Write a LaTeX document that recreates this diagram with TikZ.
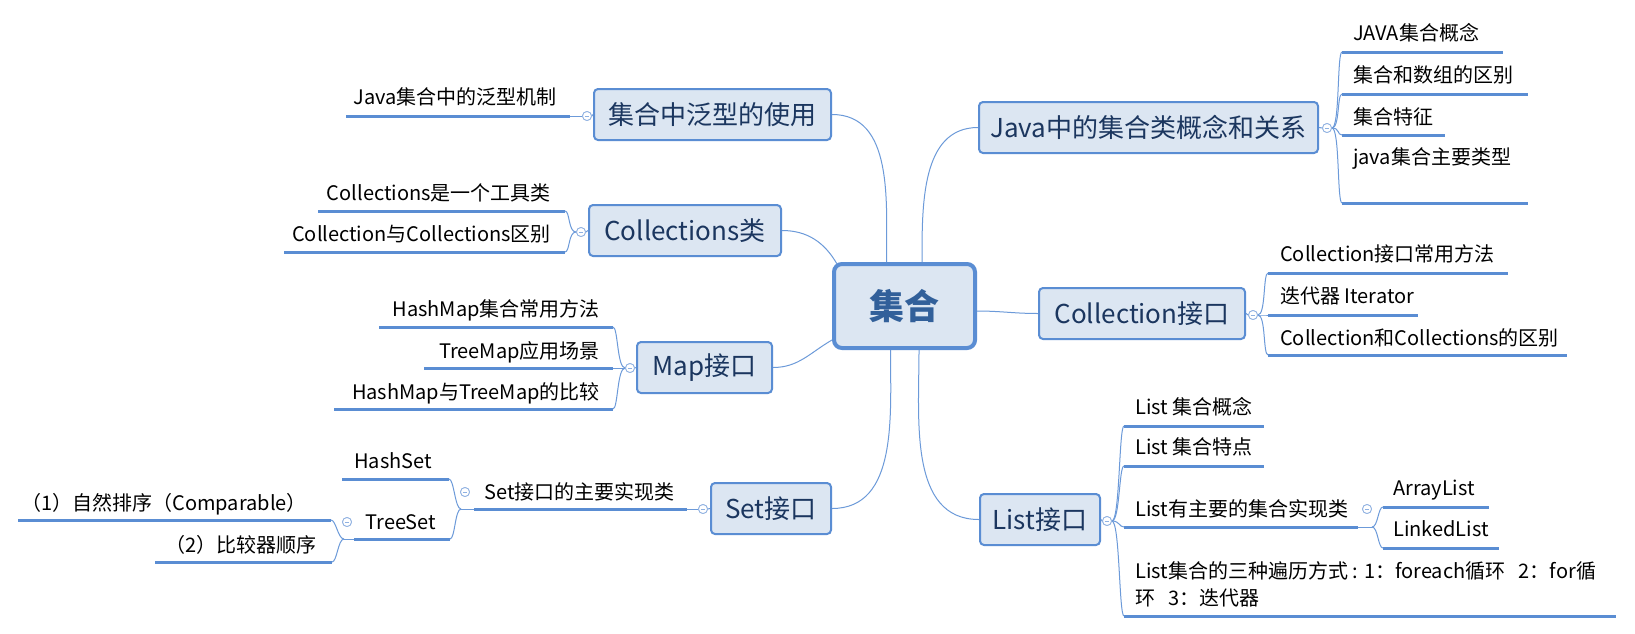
\documentclass[tikz,border=0pt]{standalone}
\usepackage{fontspec}
\setmainfont{Noto Sans CJK SC}
\usetikzlibrary{calc}
\definecolor{bfill}{HTML}{DCE6F2}
\definecolor{bline}{HTML}{5A8DD3}
\definecolor{btext}{HTML}{1B365F}
\definecolor{ctext}{HTML}{32609A}
\definecolor{uline}{HTML}{5A8DD3}
\definecolor{cline}{HTML}{6C9AD9}
\definecolor{circ}{HTML}{8FB1E1}
\begin{document}
\begin{tikzpicture}[x=1pt,y=-1pt,
  topic/.style={draw=bline, line width=2pt, fill=bfill, rounded corners=4pt, text=btext,
    font=\fontsize{26}{30}\selectfont, inner sep=0pt},
  mainbox/.style={draw=bline, line width=4pt, fill=bfill, rounded corners=8pt, text=ctext,
    font=\fontsize{35}{40}\selectfont\bfseries, inner sep=0pt},
  leaf/.style={font=\fontsize{20}{24}\selectfont, inner sep=0pt, text=black},
  uln/.style={draw=uline, line width=3pt},
  conn/.style={draw=cline, line width=1pt},
  fold/.style={circle, draw=circ, fill=white, line width=0.8pt, minimum size=9pt, inner sep=0pt,
    path picture={\draw[circ, line width=0.8pt] ([xshift=-2.2pt]path picture bounding box.center) -- ([xshift=2.2pt]path picture bounding box.center);}}
]
\useasboundingbox (0,0) rectangle (1635,633);
\fill[white] (0,0) rectangle (1635,633);

% ---------- topic boxes ----------
\node[mainbox, minimum width=141pt, minimum height=84pt] (c) at (904.5,306) {集合};
\node[topic, minimum width=339pt, minimum height=51pt] (bJava) at (1148.5,127.5) {Java中的集合类概念和关系};
\node[topic, minimum width=206pt, minimum height=51pt] (bColl) at (1142,313.5) {Collection接口};
\node[topic, minimum width=120pt, minimum height=51pt] (bList) at (1040,519.5) {List接口};
\node[topic, minimum width=237pt, minimum height=51pt] (bGen) at (712.5,114.5) {集合中泛型的使用};
\node[topic, minimum width=192pt, minimum height=51pt] (bColls) at (685,230.5) {Collections类};
\node[topic, minimum width=135pt, minimum height=51pt] (bMap) at (704.5,367.5) {Map接口};
\node[topic, minimum width=120pt, minimum height=51pt] (bSet) at (771,508.5) {Set接口};

% ---------- main connectors ----------
\begin{scope}[on background layer/.style={}]
\draw[conn] ([xshift=17.5pt]c.north) to[out=90,in=180] (bJava.west);
\draw[conn] ([yshift=-5pt]c.east) to[out=0,in=180] (bColl.west);
\draw[conn] ([xshift=14.5pt]c.south) to[out=-90,in=180] (bList.west);
\draw[conn] ([xshift=-18pt]c.north) to[out=90,in=0] (bGen.east);
\draw[conn] (bColls.east) to[out=0,in=120] ([xshift=5pt,yshift=-2pt]c.north west);
\draw[conn] (bMap.east) to[out=0,in=210] ([yshift=-34pt]c.west);
\draw[conn] (bSet.east) to[out=0,in=-90] ([xshift=-14pt]c.south);
\end{scope}

% ---------- fold circles ----------
\node[fold] (fJ) at (1327,128) {};
\node[fold] (fC) at (1253,315) {};
\node[fold] (fL) at (1107,521) {};
\node[fold] (fLL) at (1367,509) {};
\node[fold] (fG) at (587,116) {};
\node[fold] (fS) at (581,232) {};
\node[fold] (fM) at (630,368) {};
\node[fold] (fT) at (703,509) {};
\node[fold] (fT2) at (465,492) {};
\node[fold] (fTT) at (347,522) {};

% ---------- Java children ----------
\node[leaf, anchor=base west] (j1) at (1353,40.5) {JAVA集合概念};
\node[leaf, anchor=base west] (j2) at (1353,82.5) {集合和数组的区别};
\node[leaf, anchor=base west] (j3) at (1353,124.5) {集合特征};
\node[leaf, anchor=base west] (j4) at (1353,164.5) {java集合主要类型};
\coordinate (j1s) at (1342,52);  \coordinate (j1e) at (1503,52);
\coordinate (j2s) at (1342,94);  \coordinate (j2e) at (1528,94);
\coordinate (j3s) at (1342,135); \coordinate (j3e) at (1445,135);
\coordinate (j4s) at (1342,203); \coordinate (j4e) at (1528,203);
\foreach \i in {1,2,3,4} {\draw[uln] (j\i s) -- (j\i e);}
\draw[conn] (bJava.east) -- (fJ.west);
\foreach \i in {1,2,3,4} {\draw[conn] (fJ.east) .. controls +(8,0) and +(-5,0) .. (j\i s);}

% ---------- Collection children ----------
\node[leaf, anchor=base west] (k1) at (1280,261.5) {Collection接口常用方法};
\node[leaf, anchor=base west] (k2) at (1280,303.5) {迭代器 Iterator};
\node[leaf, anchor=base west] (k3) at (1280,345.5) {Collection和Collections的区别};
\coordinate (k1s) at (1268,273); \coordinate (k1e) at (1508,273);
\coordinate (k2s) at (1268,315); \coordinate (k2e) at (1418,315);
\coordinate (k3s) at (1268,355); \coordinate (k3e) at (1567,355);
\foreach \i in {1,2,3} {\draw[uln] (k\i s) -- (k\i e);}
\draw[conn] (bColl.east) -- (fC.west);
\foreach \i in {1,2,3} {\draw[conn] (fC.east) .. controls +(8,0) and +(-5,0) .. (k\i s);}

% ---------- List children ----------
\node[leaf, anchor=base west] (l1) at (1135,414.5) {List 集合概念};
\node[leaf, anchor=base west] (l2) at (1135,454.5) {List 集合特点};
\node[leaf, anchor=base west] (l3) at (1135,516.5) {List有主要的集合实现类};
\node[leaf, anchor=base west] (l4a) at (1135,578.5) {List集合的三种遍历方式 : 1：foreach循环\ \ \ 2：for循};
\node[leaf, anchor=base west] (l4b) at (1135,605.5) {环\ \ \ 3：迭代器};
\coordinate (l1s) at (1124,426); \coordinate (l1e) at (1264,426);
\coordinate (l2s) at (1124,466); \coordinate (l2e) at (1264,466);
\coordinate (l3s) at (1124,527); \coordinate (l3e) at (1358,527);
\coordinate (l4s) at (1124,616); \coordinate (l4e) at (1616,616);
\foreach \i in {1,2,3,4} {\draw[uln] (l\i s) -- (l\i e);}
\draw[conn] (bList.east) -- (fL.west);
\foreach \i in {1,2,3,4} {\draw[conn] (fL.east) .. controls +(8,0) and +(-5,0) .. (l\i s);}
% ArrayList / LinkedList
\node[leaf, anchor=base west] (a1) at (1393,495.5) {ArrayList};
\node[leaf, anchor=base west] (a2) at (1393,536.5) {LinkedList};
\coordinate (a1s) at (1383,507); \coordinate (a1e) at (1489,507);
\coordinate (a2s) at (1383,548); \coordinate (a2e) at (1499,548);
\coordinate (lj) at (1372,527);
\foreach \i in {1,2} {\draw[uln] (a\i s) -- (a\i e);}
\draw[conn] (l3e) -- (lj);
\foreach \i in {1,2} {\draw[conn] (lj) .. controls +(6,0) and +(-5,0) .. (a\i s);}

% ---------- Generic ----------
\node[leaf, anchor=base east] (g1) at (557,104.5) {Java集合中的泛型机制};
\coordinate (g1s) at (346,116); \coordinate (g1e) at (570,116);
\draw[uln] (g1s) -- (g1e);
\draw[conn] (bGen.west) -- (fG.east);
\draw[conn] (fG.west) -- (g1e);

% ---------- Collections ----------
\node[leaf, anchor=base east] (s1) at (551,200.5) {Collections是一个工具类};
\node[leaf, anchor=base east] (s2) at (551,241.5) {Collection与Collections区别};
\coordinate (s1s) at (318,211); \coordinate (s1e) at (565,211);
\coordinate (s2s) at (284,252); \coordinate (s2e) at (565,252);
\foreach \i in {1,2} {\draw[uln] (s\i s) -- (s\i e);}
\draw[conn] (bColls.west) -- (fS.east);
\foreach \i in {1,2} {\draw[conn] (fS.west) .. controls +(-8,0) and +(5,0) .. (s\i e);}

% ---------- Map ----------
\node[leaf, anchor=base east] (m1) at (600,316.5) {HashMap集合常用方法};
\node[leaf, anchor=base east] (m2) at (600,358.5) {TreeMap应用场景};
\node[leaf, anchor=base east] (m3) at (600,399.5) {HashMap与TreeMap的比较};
\coordinate (m1s) at (379,327); \coordinate (m1e) at (613,327);
\coordinate (m2s) at (424,368); \coordinate (m2e) at (613,368);
\coordinate (m3s) at (334,409); \coordinate (m3e) at (613,409);
\foreach \i in {1,2,3} {\draw[uln] (m\i s) -- (m\i e);}
\draw[conn] (bMap.west) -- (fM.east);
\foreach \i in {1,2,3} {\draw[conn] (fM.west) .. controls +(-8,0) and +(5,0) .. (m\i e);}

% ---------- Set ----------
\node[leaf, anchor=base east] (t1) at (675,499.5) {Set接口的主要实现类};
\coordinate (t1s) at (474,509); \coordinate (t1e) at (687,509);
\draw[uln] (t1s) -- (t1e);
\draw[conn] (bSet.west) -- (fT.east);
\draw[conn] (fT.west) -- (t1e);
\node[leaf, anchor=base] (h1) at (393,468.5) {HashSet};
\node[leaf, anchor=base] (h2) at (401,529.5) {TreeSet};
\coordinate (h1s) at (342,479); \coordinate (h1e) at (449,479);
\coordinate (h2s) at (354,539); \coordinate (h2e) at (450,539);
\coordinate (tj) at (461,509);
\foreach \i in {1,2} {\draw[uln] (h\i s) -- (h\i e);}
\draw[conn] (t1s) -- (tj);
\foreach \i in {1,2} {\draw[conn] (tj) .. controls +(-6,0) and +(5,0) .. (h\i e);}
% TreeSet children
\node[leaf, anchor=base east] (r1) at (307,510.5) {（1）自然排序（Comparable）};
\node[leaf, anchor=base east] (r2) at (317,552.5) {（2）比较器顺序};
\coordinate (r1s) at (18,520);  \coordinate (r1e) at (331,520);
\coordinate (r2s) at (155,562); \coordinate (r2e) at (332,562);
\coordinate (tj2) at (344,539);
\foreach \i in {1,2} {\draw[uln] (r\i s) -- (r\i e);}
\draw[conn] (h2s) -- (tj2);
\foreach \i in {1,2} {\draw[conn] (tj2) .. controls +(-6,0) and +(5,0) .. (r\i e);}

% redraw fold circles on top
\foreach \f/\p in {fJ/{(1327,128)},fC/{(1253,315)},fL/{(1107,521)},fLL/{(1367,509)},fG/{(587,116)},fS/{(581,232)},fM/{(630,368)},fT/{(703,509)},fT2/{(465,492)},fTT/{(347,522)}}
  {\node[fold] at \p {};}
\end{tikzpicture}
\end{document}
